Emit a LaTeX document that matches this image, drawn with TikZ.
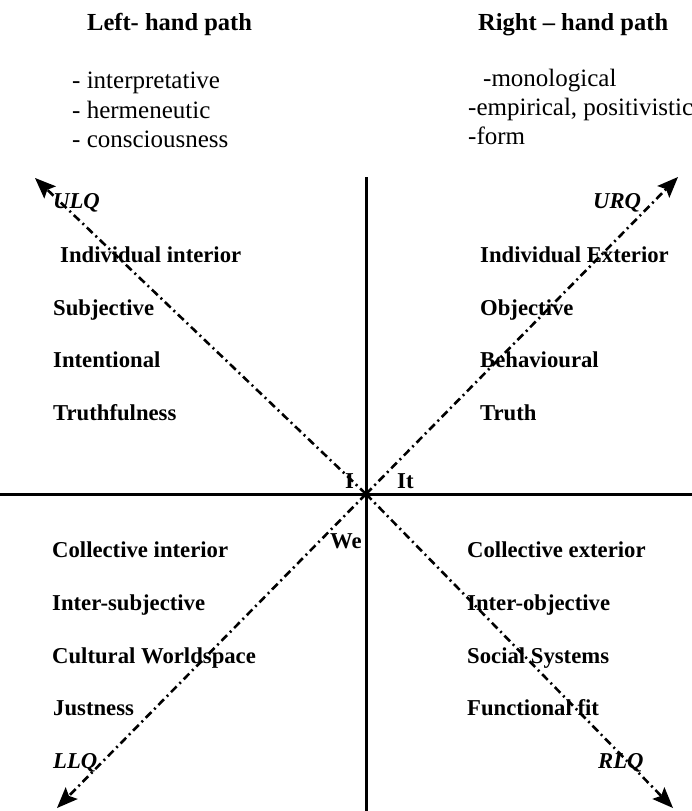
\documentclass[tikz,border=0pt]{standalone}
\usepackage{fontspec}
\setmainfont{Liberation Serif}
\usetikzlibrary{arrows.meta}
\begin{document}
\begin{tikzpicture}[x=1pt,y=-1pt,
  axis/.style={line width=3pt},
  diag/.style={line width=2.6pt, dash pattern=on 8pt off 4pt on 2pt off 4pt,
    -{Stealth[length=21pt,width=17pt,inset=4pt,line width=0pt]}},
  ttl/.style={anchor=base west, inner sep=0pt, font=\fontsize{24.5}{28}\selectfont\bfseries},
  lst/.style={anchor=base west, inner sep=0pt, font=\fontsize{25}{28}\selectfont},
  qt/.style={anchor=base west, inner sep=0pt, font=\fontsize{22.7}{26}\selectfont\bfseries},
  ql/.style={anchor=base west, inner sep=0pt, font=\fontsize{22.7}{26}\selectfont\bfseries\itshape}]
\useasboundingbox (0,0) rectangle (692,811);
% axes
\coordinate (c) at (366,494);
\coordinate (vt) at (366,177);
\coordinate (vb) at (366,811);
\coordinate (hl) at (0,494);
\coordinate (hr) at (692,494);
\draw[axis] (vt) -- (vb);
\draw[axis] (hl) -- (hr);
% diagonals
\coordinate (ulq) at (35,178);
\coordinate (urq) at (678,177);
\coordinate (llq) at (57,808);
\coordinate (rlq) at (673,808);
\draw[diag] (c) -- (ulq);
\draw[diag] (c) -- (urq);
\draw[diag] (c) -- (llq);
\draw[diag] (c) -- (rlq);
% headings
\node[ttl] (lh) at (87,30) {Left- hand path};
\node[ttl] (rh) at (478,30) {Right -- hand path};
\node[lst] (l1) at (72,88) {- interpretative};
\node[lst] (l2) at (72,118) {- hermeneutic};
\node[lst] (l3) at (72,147) {- consciousness};
\node[lst] (r1) at (483,86) {-monological};
\node[lst] (r2) at (468,115) {-empirical, positivistic};
\node[lst] (r3) at (468,144) {-form};
% quadrant labels
\node[ql] (tul) at (53,208) {ULQ};
\node[ql] (tur) at (593,208) {URQ};
\node[ql] (tll) at (53,768) {LLQ};
\node[ql] (trl) at (598,768) {RLQ};
% upper left
\node[qt] (a1) at (60,262) {Individual interior};
\node[qt] (a2) at (53,315) {Subjective};
\node[qt] (a3) at (53,367) {Intentional};
\node[qt] (a4) at (53,420) {Truthfulness};
% upper right
\node[qt] (b1) at (480,262) {Individual Exterior};
\node[qt] (b2) at (480,315) {Objective};
\node[qt] (b3) at (480,367) {Behavioural};
\node[qt] (b4) at (480,420) {Truth};
% lower left
\node[qt] (c1) at (52,557) {Collective interior};
\node[qt] (c2) at (52,610) {Inter-subjective};
\node[qt] (c3) at (52,663) {Cultural Worldspace};
\node[qt] (c4) at (53,715) {Justness};
% lower right
\node[qt] (d1) at (467,557) {Collective exterior};
\node[qt] (d2) at (467,610) {Inter-objective};
\node[qt] (d3) at (467,663) {Social Systems};
\node[qt] (d4) at (467,715) {Functional fit};
% centre labels
\node[qt] (ti) at (345,488) {I};
\node[qt] (tit) at (397,488) {It};
\node[qt] (twe) at (330,548) {We};
\end{tikzpicture}
\end{document}
